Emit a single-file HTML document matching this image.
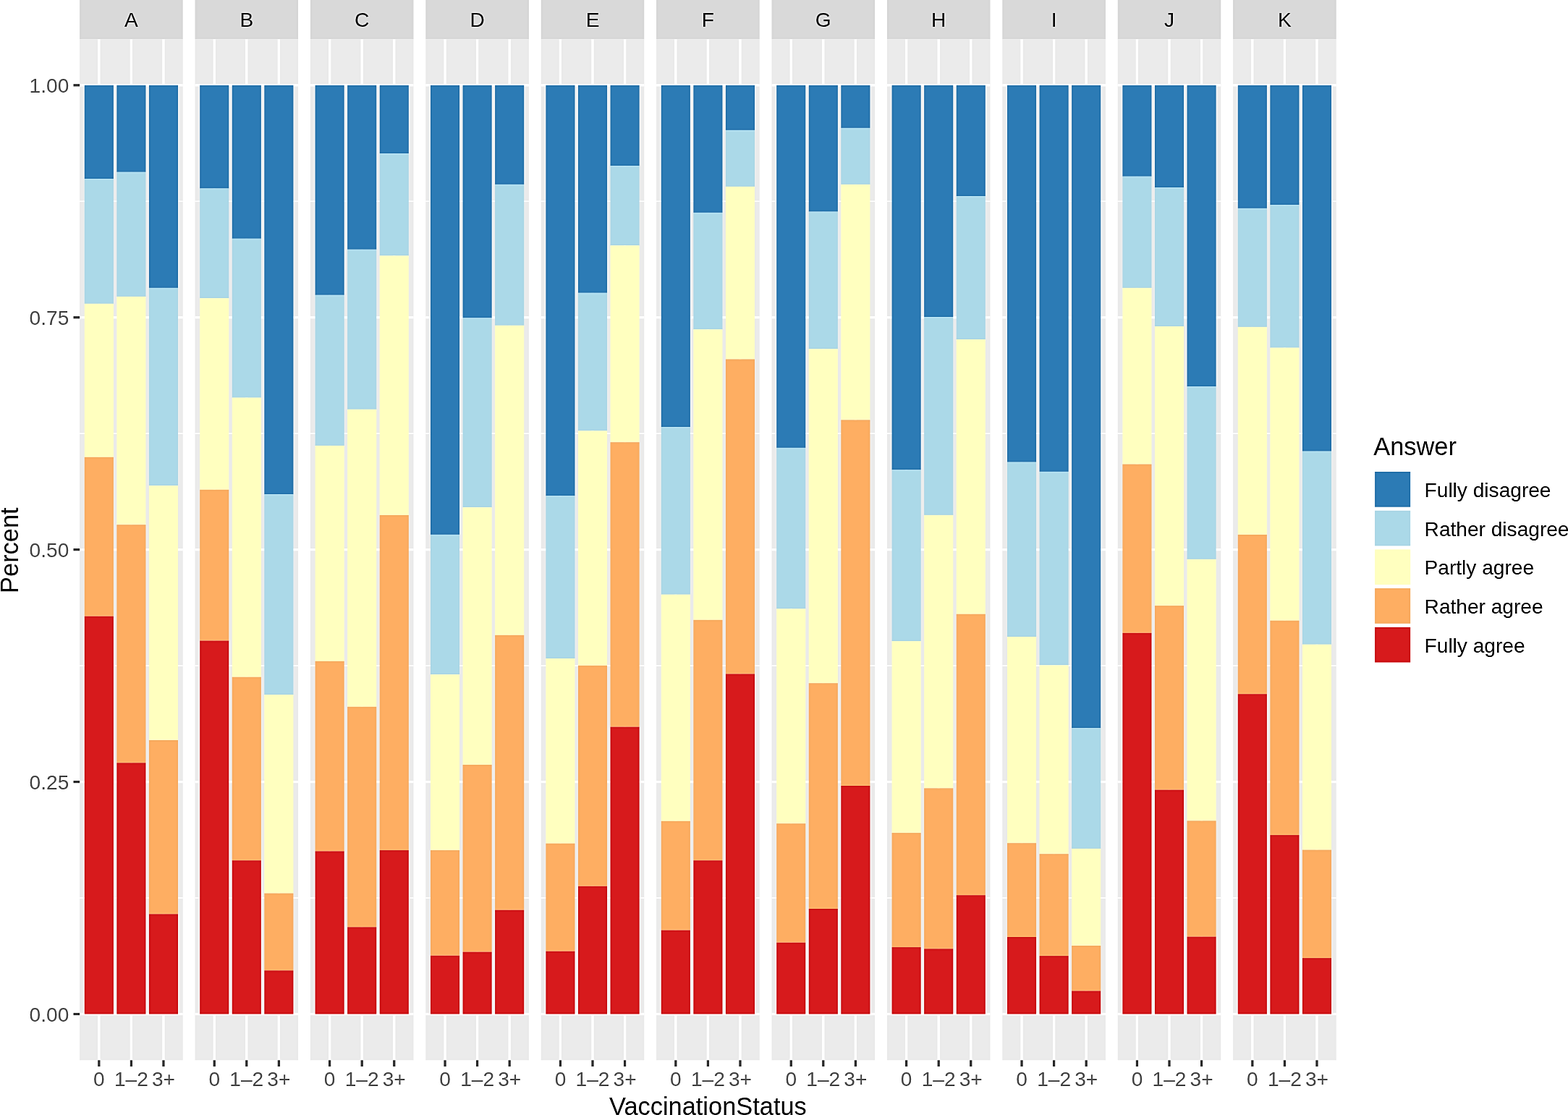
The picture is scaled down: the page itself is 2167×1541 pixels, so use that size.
<!DOCTYPE html>
<html><head><meta charset="utf-8"><title>Stacked bar chart</title>
<style>html,body{margin:0;padding:0;background:#fff;width:2167px;height:1541px;overflow:hidden}svg{display:block}text{font-family:"Liberation Sans",Arial,Helvetica,sans-serif}</style>
</head><body>
<svg width="2167" height="1541" viewBox="0 0 2167 1541">
<defs><filter id="usm" filterUnits="userSpaceOnUse" x="-30" y="-30" width="2227" height="1601" color-interpolation-filters="sRGB"><feGaussianBlur in="SourceGraphic" stdDeviation="0.6" result="s"/><feColorMatrix in="s" type="matrix" values="0.299 0.587 0.114 0 0 0.299 0.587 0.114 0 0 0.299 0.587 0.114 0 0 0 0 0 1 0" result="ls"/><feGaussianBlur in="ls" stdDeviation="1.6" result="lb"/><feComposite in="s" in2="ls" operator="arithmetic" k1="0" k2="0.705882" k3="0.282353" k4="0" result="t"/><feComposite in="t" in2="lb" operator="arithmetic" k1="0" k2="1" k3="-0.282353" k4="0" result="u"/><feComponentTransfer in="u"><feFuncA type="linear" slope="1.41767" intercept="0"/></feComponentTransfer></filter></defs>
<g filter="url(#usm)">
<rect x="-30" y="-30" width="2227" height="1601" fill="#fff"/>
<g>
<rect x="110.1" y="-30" width="142.6" height="84.2" fill="#D9D9D9"/>
<text x="181.4" y="37" text-anchor="middle" font-size="28.1" fill="#1A1A1A">A</text>
<rect x="110.1" y="54.2" width="142.6" height="1411.1" fill="#EBEBEB"/>
<rect x="110.1" y="1240.21" width="142.6" height="1.65" fill="#fff"/>
<rect x="110.1" y="919.29" width="142.6" height="1.65" fill="#fff"/>
<rect x="110.1" y="598.36" width="142.6" height="1.65" fill="#fff"/>
<rect x="110.1" y="277.44" width="142.6" height="1.65" fill="#fff"/>
<rect x="110.1" y="1399.85" width="142.6" height="3.3" fill="#fff"/>
<rect x="110.1" y="1078.92" width="142.6" height="3.3" fill="#fff"/>
<rect x="110.1" y="758" width="142.6" height="3.3" fill="#fff"/>
<rect x="110.1" y="437.08" width="142.6" height="3.3" fill="#fff"/>
<rect x="110.1" y="116.15" width="142.6" height="3.3" fill="#fff"/>
<rect x="135.19" y="54.2" width="3.3" height="1411.1" fill="#fff"/>
<rect x="179.75" y="54.2" width="3.3" height="1411.1" fill="#fff"/>
<rect x="224.31" y="54.2" width="3.3" height="1411.1" fill="#fff"/>
<rect x="116.78" y="117.8" width="40.11" height="129.4" fill="#2C7BB6"/>
<rect x="116.78" y="247.2" width="40.11" height="172.6" fill="#ABD9E9"/>
<rect x="116.78" y="419.8" width="40.11" height="212" fill="#FFFFBF"/>
<rect x="116.78" y="631.8" width="40.11" height="219.9" fill="#FDAE61"/>
<rect x="116.78" y="851.7" width="40.11" height="549.8" fill="#D7191C"/>
<rect x="161.35" y="117.8" width="40.11" height="120" fill="#2C7BB6"/>
<rect x="161.35" y="237.8" width="40.11" height="172.1" fill="#ABD9E9"/>
<rect x="161.35" y="409.9" width="40.11" height="315.3" fill="#FFFFBF"/>
<rect x="161.35" y="725.2" width="40.11" height="329.1" fill="#FDAE61"/>
<rect x="161.35" y="1054.3" width="40.11" height="347.2" fill="#D7191C"/>
<rect x="205.91" y="117.8" width="40.11" height="280.1" fill="#2C7BB6"/>
<rect x="205.91" y="397.9" width="40.11" height="273.3" fill="#ABD9E9"/>
<rect x="205.91" y="671.2" width="40.11" height="351.8" fill="#FFFFBF"/>
<rect x="205.91" y="1023" width="40.11" height="240.3" fill="#FDAE61"/>
<rect x="205.91" y="1263.3" width="40.11" height="138.2" fill="#D7191C"/>
</g>
<g>
<rect x="269.5" y="-30" width="142.6" height="84.2" fill="#D9D9D9"/>
<text x="340.8" y="37" text-anchor="middle" font-size="28.1" fill="#1A1A1A">B</text>
<rect x="269.5" y="54.2" width="142.6" height="1411.1" fill="#EBEBEB"/>
<rect x="269.5" y="1240.21" width="142.6" height="1.65" fill="#fff"/>
<rect x="269.5" y="919.29" width="142.6" height="1.65" fill="#fff"/>
<rect x="269.5" y="598.36" width="142.6" height="1.65" fill="#fff"/>
<rect x="269.5" y="277.44" width="142.6" height="1.65" fill="#fff"/>
<rect x="269.5" y="1399.85" width="142.6" height="3.3" fill="#fff"/>
<rect x="269.5" y="1078.92" width="142.6" height="3.3" fill="#fff"/>
<rect x="269.5" y="758" width="142.6" height="3.3" fill="#fff"/>
<rect x="269.5" y="437.08" width="142.6" height="3.3" fill="#fff"/>
<rect x="269.5" y="116.15" width="142.6" height="3.3" fill="#fff"/>
<rect x="294.59" y="54.2" width="3.3" height="1411.1" fill="#fff"/>
<rect x="339.15" y="54.2" width="3.3" height="1411.1" fill="#fff"/>
<rect x="383.71" y="54.2" width="3.3" height="1411.1" fill="#fff"/>
<rect x="276.18" y="117.8" width="40.11" height="142.7" fill="#2C7BB6"/>
<rect x="276.18" y="260.5" width="40.11" height="151.6" fill="#ABD9E9"/>
<rect x="276.18" y="412.1" width="40.11" height="264.7" fill="#FFFFBF"/>
<rect x="276.18" y="676.8" width="40.11" height="208.7" fill="#FDAE61"/>
<rect x="276.18" y="885.5" width="40.11" height="516" fill="#D7191C"/>
<rect x="320.75" y="117.8" width="40.11" height="212" fill="#2C7BB6"/>
<rect x="320.75" y="329.8" width="40.11" height="219.8" fill="#ABD9E9"/>
<rect x="320.75" y="549.6" width="40.11" height="386.1" fill="#FFFFBF"/>
<rect x="320.75" y="935.7" width="40.11" height="253.5" fill="#FDAE61"/>
<rect x="320.75" y="1189.2" width="40.11" height="212.3" fill="#D7191C"/>
<rect x="365.31" y="117.8" width="40.11" height="565.4" fill="#2C7BB6"/>
<rect x="365.31" y="683.2" width="40.11" height="276.9" fill="#ABD9E9"/>
<rect x="365.31" y="960.1" width="40.11" height="274.5" fill="#FFFFBF"/>
<rect x="365.31" y="1234.6" width="40.11" height="106.7" fill="#FDAE61"/>
<rect x="365.31" y="1341.3" width="40.11" height="60.2" fill="#D7191C"/>
</g>
<g>
<rect x="428.9" y="-30" width="142.6" height="84.2" fill="#D9D9D9"/>
<text x="500.2" y="37" text-anchor="middle" font-size="28.1" fill="#1A1A1A">C</text>
<rect x="428.9" y="54.2" width="142.6" height="1411.1" fill="#EBEBEB"/>
<rect x="428.9" y="1240.21" width="142.6" height="1.65" fill="#fff"/>
<rect x="428.9" y="919.29" width="142.6" height="1.65" fill="#fff"/>
<rect x="428.9" y="598.36" width="142.6" height="1.65" fill="#fff"/>
<rect x="428.9" y="277.44" width="142.6" height="1.65" fill="#fff"/>
<rect x="428.9" y="1399.85" width="142.6" height="3.3" fill="#fff"/>
<rect x="428.9" y="1078.92" width="142.6" height="3.3" fill="#fff"/>
<rect x="428.9" y="758" width="142.6" height="3.3" fill="#fff"/>
<rect x="428.9" y="437.08" width="142.6" height="3.3" fill="#fff"/>
<rect x="428.9" y="116.15" width="142.6" height="3.3" fill="#fff"/>
<rect x="453.99" y="54.2" width="3.3" height="1411.1" fill="#fff"/>
<rect x="498.55" y="54.2" width="3.3" height="1411.1" fill="#fff"/>
<rect x="543.11" y="54.2" width="3.3" height="1411.1" fill="#fff"/>
<rect x="435.58" y="117.8" width="40.11" height="290" fill="#2C7BB6"/>
<rect x="435.58" y="407.8" width="40.11" height="208.1" fill="#ABD9E9"/>
<rect x="435.58" y="615.9" width="40.11" height="297.9" fill="#FFFFBF"/>
<rect x="435.58" y="913.8" width="40.11" height="262.6" fill="#FDAE61"/>
<rect x="435.58" y="1176.4" width="40.11" height="225.1" fill="#D7191C"/>
<rect x="480.15" y="117.8" width="40.11" height="227" fill="#2C7BB6"/>
<rect x="480.15" y="344.8" width="40.11" height="221" fill="#ABD9E9"/>
<rect x="480.15" y="565.8" width="40.11" height="411" fill="#FFFFBF"/>
<rect x="480.15" y="976.8" width="40.11" height="304.5" fill="#FDAE61"/>
<rect x="480.15" y="1281.3" width="40.11" height="120.2" fill="#D7191C"/>
<rect x="524.71" y="117.8" width="40.11" height="94.3" fill="#2C7BB6"/>
<rect x="524.71" y="212.1" width="40.11" height="141.3" fill="#ABD9E9"/>
<rect x="524.71" y="353.4" width="40.11" height="358.5" fill="#FFFFBF"/>
<rect x="524.71" y="711.9" width="40.11" height="463.2" fill="#FDAE61"/>
<rect x="524.71" y="1175.1" width="40.11" height="226.4" fill="#D7191C"/>
</g>
<g>
<rect x="588.3" y="-30" width="142.6" height="84.2" fill="#D9D9D9"/>
<text x="659.6" y="37" text-anchor="middle" font-size="28.1" fill="#1A1A1A">D</text>
<rect x="588.3" y="54.2" width="142.6" height="1411.1" fill="#EBEBEB"/>
<rect x="588.3" y="1240.21" width="142.6" height="1.65" fill="#fff"/>
<rect x="588.3" y="919.29" width="142.6" height="1.65" fill="#fff"/>
<rect x="588.3" y="598.36" width="142.6" height="1.65" fill="#fff"/>
<rect x="588.3" y="277.44" width="142.6" height="1.65" fill="#fff"/>
<rect x="588.3" y="1399.85" width="142.6" height="3.3" fill="#fff"/>
<rect x="588.3" y="1078.92" width="142.6" height="3.3" fill="#fff"/>
<rect x="588.3" y="758" width="142.6" height="3.3" fill="#fff"/>
<rect x="588.3" y="437.08" width="142.6" height="3.3" fill="#fff"/>
<rect x="588.3" y="116.15" width="142.6" height="3.3" fill="#fff"/>
<rect x="613.39" y="54.2" width="3.3" height="1411.1" fill="#fff"/>
<rect x="657.95" y="54.2" width="3.3" height="1411.1" fill="#fff"/>
<rect x="702.51" y="54.2" width="3.3" height="1411.1" fill="#fff"/>
<rect x="594.98" y="117.8" width="40.11" height="621.1" fill="#2C7BB6"/>
<rect x="594.98" y="738.9" width="40.11" height="193.3" fill="#ABD9E9"/>
<rect x="594.98" y="932.2" width="40.11" height="242.9" fill="#FFFFBF"/>
<rect x="594.98" y="1175.1" width="40.11" height="145.6" fill="#FDAE61"/>
<rect x="594.98" y="1320.7" width="40.11" height="80.8" fill="#D7191C"/>
<rect x="639.55" y="117.8" width="40.11" height="321.7" fill="#2C7BB6"/>
<rect x="639.55" y="439.5" width="40.11" height="261.7" fill="#ABD9E9"/>
<rect x="639.55" y="701.2" width="40.11" height="355.7" fill="#FFFFBF"/>
<rect x="639.55" y="1056.9" width="40.11" height="258.7" fill="#FDAE61"/>
<rect x="639.55" y="1315.6" width="40.11" height="85.9" fill="#D7191C"/>
<rect x="684.11" y="117.8" width="40.11" height="137.1" fill="#2C7BB6"/>
<rect x="684.11" y="254.9" width="40.11" height="194.9" fill="#ABD9E9"/>
<rect x="684.11" y="449.8" width="40.11" height="428" fill="#FFFFBF"/>
<rect x="684.11" y="877.8" width="40.11" height="379.9" fill="#FDAE61"/>
<rect x="684.11" y="1257.7" width="40.11" height="143.8" fill="#D7191C"/>
</g>
<g>
<rect x="747.7" y="-30" width="142.6" height="84.2" fill="#D9D9D9"/>
<text x="819" y="37" text-anchor="middle" font-size="28.1" fill="#1A1A1A">E</text>
<rect x="747.7" y="54.2" width="142.6" height="1411.1" fill="#EBEBEB"/>
<rect x="747.7" y="1240.21" width="142.6" height="1.65" fill="#fff"/>
<rect x="747.7" y="919.29" width="142.6" height="1.65" fill="#fff"/>
<rect x="747.7" y="598.36" width="142.6" height="1.65" fill="#fff"/>
<rect x="747.7" y="277.44" width="142.6" height="1.65" fill="#fff"/>
<rect x="747.7" y="1399.85" width="142.6" height="3.3" fill="#fff"/>
<rect x="747.7" y="1078.92" width="142.6" height="3.3" fill="#fff"/>
<rect x="747.7" y="758" width="142.6" height="3.3" fill="#fff"/>
<rect x="747.7" y="437.08" width="142.6" height="3.3" fill="#fff"/>
<rect x="747.7" y="116.15" width="142.6" height="3.3" fill="#fff"/>
<rect x="772.79" y="54.2" width="3.3" height="1411.1" fill="#fff"/>
<rect x="817.35" y="54.2" width="3.3" height="1411.1" fill="#fff"/>
<rect x="861.91" y="54.2" width="3.3" height="1411.1" fill="#fff"/>
<rect x="754.38" y="117.8" width="40.11" height="567.5" fill="#2C7BB6"/>
<rect x="754.38" y="685.3" width="40.11" height="224.7" fill="#ABD9E9"/>
<rect x="754.38" y="910" width="40.11" height="255.7" fill="#FFFFBF"/>
<rect x="754.38" y="1165.7" width="40.11" height="149" fill="#FDAE61"/>
<rect x="754.38" y="1314.7" width="40.11" height="86.8" fill="#D7191C"/>
<rect x="798.95" y="117.8" width="40.11" height="287" fill="#2C7BB6"/>
<rect x="798.95" y="404.8" width="40.11" height="190.6" fill="#ABD9E9"/>
<rect x="798.95" y="595.4" width="40.11" height="324.4" fill="#FFFFBF"/>
<rect x="798.95" y="919.8" width="40.11" height="305" fill="#FDAE61"/>
<rect x="798.95" y="1224.8" width="40.11" height="176.7" fill="#D7191C"/>
<rect x="843.51" y="117.8" width="40.11" height="111.4" fill="#2C7BB6"/>
<rect x="843.51" y="229.2" width="40.11" height="110.1" fill="#ABD9E9"/>
<rect x="843.51" y="339.3" width="40.11" height="271.9" fill="#FFFFBF"/>
<rect x="843.51" y="611.2" width="40.11" height="393.4" fill="#FDAE61"/>
<rect x="843.51" y="1004.6" width="40.11" height="396.9" fill="#D7191C"/>
</g>
<g>
<rect x="907.1" y="-30" width="142.6" height="84.2" fill="#D9D9D9"/>
<text x="978.4" y="37" text-anchor="middle" font-size="28.1" fill="#1A1A1A">F</text>
<rect x="907.1" y="54.2" width="142.6" height="1411.1" fill="#EBEBEB"/>
<rect x="907.1" y="1240.21" width="142.6" height="1.65" fill="#fff"/>
<rect x="907.1" y="919.29" width="142.6" height="1.65" fill="#fff"/>
<rect x="907.1" y="598.36" width="142.6" height="1.65" fill="#fff"/>
<rect x="907.1" y="277.44" width="142.6" height="1.65" fill="#fff"/>
<rect x="907.1" y="1399.85" width="142.6" height="3.3" fill="#fff"/>
<rect x="907.1" y="1078.92" width="142.6" height="3.3" fill="#fff"/>
<rect x="907.1" y="758" width="142.6" height="3.3" fill="#fff"/>
<rect x="907.1" y="437.08" width="142.6" height="3.3" fill="#fff"/>
<rect x="907.1" y="116.15" width="142.6" height="3.3" fill="#fff"/>
<rect x="932.19" y="54.2" width="3.3" height="1411.1" fill="#fff"/>
<rect x="976.75" y="54.2" width="3.3" height="1411.1" fill="#fff"/>
<rect x="1021.31" y="54.2" width="3.3" height="1411.1" fill="#fff"/>
<rect x="913.78" y="117.8" width="40.11" height="472.4" fill="#2C7BB6"/>
<rect x="913.78" y="590.2" width="40.11" height="231.5" fill="#ABD9E9"/>
<rect x="913.78" y="821.7" width="40.11" height="313.1" fill="#FFFFBF"/>
<rect x="913.78" y="1134.8" width="40.11" height="150.8" fill="#FDAE61"/>
<rect x="913.78" y="1285.6" width="40.11" height="115.9" fill="#D7191C"/>
<rect x="958.35" y="117.8" width="40.11" height="176.1" fill="#2C7BB6"/>
<rect x="958.35" y="293.9" width="40.11" height="161.4" fill="#ABD9E9"/>
<rect x="958.35" y="455.3" width="40.11" height="401.5" fill="#FFFFBF"/>
<rect x="958.35" y="856.8" width="40.11" height="332.4" fill="#FDAE61"/>
<rect x="958.35" y="1189.2" width="40.11" height="212.3" fill="#D7191C"/>
<rect x="1002.91" y="117.8" width="40.11" height="62.1" fill="#2C7BB6"/>
<rect x="1002.91" y="179.9" width="40.11" height="78" fill="#ABD9E9"/>
<rect x="1002.91" y="257.9" width="40.11" height="238.6" fill="#FFFFBF"/>
<rect x="1002.91" y="496.5" width="40.11" height="434.9" fill="#FDAE61"/>
<rect x="1002.91" y="931.4" width="40.11" height="470.1" fill="#D7191C"/>
</g>
<g>
<rect x="1066.5" y="-30" width="142.6" height="84.2" fill="#D9D9D9"/>
<text x="1137.8" y="37" text-anchor="middle" font-size="28.1" fill="#1A1A1A">G</text>
<rect x="1066.5" y="54.2" width="142.6" height="1411.1" fill="#EBEBEB"/>
<rect x="1066.5" y="1240.21" width="142.6" height="1.65" fill="#fff"/>
<rect x="1066.5" y="919.29" width="142.6" height="1.65" fill="#fff"/>
<rect x="1066.5" y="598.36" width="142.6" height="1.65" fill="#fff"/>
<rect x="1066.5" y="277.44" width="142.6" height="1.65" fill="#fff"/>
<rect x="1066.5" y="1399.85" width="142.6" height="3.3" fill="#fff"/>
<rect x="1066.5" y="1078.92" width="142.6" height="3.3" fill="#fff"/>
<rect x="1066.5" y="758" width="142.6" height="3.3" fill="#fff"/>
<rect x="1066.5" y="437.08" width="142.6" height="3.3" fill="#fff"/>
<rect x="1066.5" y="116.15" width="142.6" height="3.3" fill="#fff"/>
<rect x="1091.59" y="54.2" width="3.3" height="1411.1" fill="#fff"/>
<rect x="1136.15" y="54.2" width="3.3" height="1411.1" fill="#fff"/>
<rect x="1180.71" y="54.2" width="3.3" height="1411.1" fill="#fff"/>
<rect x="1073.18" y="117.8" width="40.11" height="501.1" fill="#2C7BB6"/>
<rect x="1073.18" y="618.9" width="40.11" height="222.5" fill="#ABD9E9"/>
<rect x="1073.18" y="841.4" width="40.11" height="296.8" fill="#FFFFBF"/>
<rect x="1073.18" y="1138.2" width="40.11" height="164.5" fill="#FDAE61"/>
<rect x="1073.18" y="1302.7" width="40.11" height="98.8" fill="#D7191C"/>
<rect x="1117.75" y="117.8" width="40.11" height="174.8" fill="#2C7BB6"/>
<rect x="1117.75" y="292.6" width="40.11" height="189.7" fill="#ABD9E9"/>
<rect x="1117.75" y="482.3" width="40.11" height="461.9" fill="#FFFFBF"/>
<rect x="1117.75" y="944.2" width="40.11" height="311.8" fill="#FDAE61"/>
<rect x="1117.75" y="1256" width="40.11" height="145.5" fill="#D7191C"/>
<rect x="1162.31" y="117.8" width="40.11" height="59.1" fill="#2C7BB6"/>
<rect x="1162.31" y="176.9" width="40.11" height="78" fill="#ABD9E9"/>
<rect x="1162.31" y="254.9" width="40.11" height="325.5" fill="#FFFFBF"/>
<rect x="1162.31" y="580.4" width="40.11" height="505.6" fill="#FDAE61"/>
<rect x="1162.31" y="1086" width="40.11" height="315.5" fill="#D7191C"/>
</g>
<g>
<rect x="1225.9" y="-30" width="142.6" height="84.2" fill="#D9D9D9"/>
<text x="1297.2" y="37" text-anchor="middle" font-size="28.1" fill="#1A1A1A">H</text>
<rect x="1225.9" y="54.2" width="142.6" height="1411.1" fill="#EBEBEB"/>
<rect x="1225.9" y="1240.21" width="142.6" height="1.65" fill="#fff"/>
<rect x="1225.9" y="919.29" width="142.6" height="1.65" fill="#fff"/>
<rect x="1225.9" y="598.36" width="142.6" height="1.65" fill="#fff"/>
<rect x="1225.9" y="277.44" width="142.6" height="1.65" fill="#fff"/>
<rect x="1225.9" y="1399.85" width="142.6" height="3.3" fill="#fff"/>
<rect x="1225.9" y="1078.92" width="142.6" height="3.3" fill="#fff"/>
<rect x="1225.9" y="758" width="142.6" height="3.3" fill="#fff"/>
<rect x="1225.9" y="437.08" width="142.6" height="3.3" fill="#fff"/>
<rect x="1225.9" y="116.15" width="142.6" height="3.3" fill="#fff"/>
<rect x="1250.99" y="54.2" width="3.3" height="1411.1" fill="#fff"/>
<rect x="1295.55" y="54.2" width="3.3" height="1411.1" fill="#fff"/>
<rect x="1340.11" y="54.2" width="3.3" height="1411.1" fill="#fff"/>
<rect x="1232.58" y="117.8" width="40.11" height="531.6" fill="#2C7BB6"/>
<rect x="1232.58" y="649.4" width="40.11" height="236.6" fill="#ABD9E9"/>
<rect x="1232.58" y="886" width="40.11" height="265.1" fill="#FFFFBF"/>
<rect x="1232.58" y="1151.1" width="40.11" height="158" fill="#FDAE61"/>
<rect x="1232.58" y="1309.1" width="40.11" height="92.4" fill="#D7191C"/>
<rect x="1277.15" y="117.8" width="40.11" height="320.4" fill="#2C7BB6"/>
<rect x="1277.15" y="438.2" width="40.11" height="273.7" fill="#ABD9E9"/>
<rect x="1277.15" y="711.9" width="40.11" height="377.5" fill="#FFFFBF"/>
<rect x="1277.15" y="1089.4" width="40.11" height="221.9" fill="#FDAE61"/>
<rect x="1277.15" y="1311.3" width="40.11" height="90.2" fill="#D7191C"/>
<rect x="1321.71" y="117.8" width="40.11" height="153.4" fill="#2C7BB6"/>
<rect x="1321.71" y="271.2" width="40.11" height="197.8" fill="#ABD9E9"/>
<rect x="1321.71" y="469" width="40.11" height="379.7" fill="#FFFFBF"/>
<rect x="1321.71" y="848.7" width="40.11" height="388.5" fill="#FDAE61"/>
<rect x="1321.71" y="1237.2" width="40.11" height="164.3" fill="#D7191C"/>
</g>
<g>
<rect x="1385.3" y="-30" width="142.6" height="84.2" fill="#D9D9D9"/>
<text x="1456.6" y="37" text-anchor="middle" font-size="28.1" fill="#1A1A1A">I</text>
<rect x="1385.3" y="54.2" width="142.6" height="1411.1" fill="#EBEBEB"/>
<rect x="1385.3" y="1240.21" width="142.6" height="1.65" fill="#fff"/>
<rect x="1385.3" y="919.29" width="142.6" height="1.65" fill="#fff"/>
<rect x="1385.3" y="598.36" width="142.6" height="1.65" fill="#fff"/>
<rect x="1385.3" y="277.44" width="142.6" height="1.65" fill="#fff"/>
<rect x="1385.3" y="1399.85" width="142.6" height="3.3" fill="#fff"/>
<rect x="1385.3" y="1078.92" width="142.6" height="3.3" fill="#fff"/>
<rect x="1385.3" y="758" width="142.6" height="3.3" fill="#fff"/>
<rect x="1385.3" y="437.08" width="142.6" height="3.3" fill="#fff"/>
<rect x="1385.3" y="116.15" width="142.6" height="3.3" fill="#fff"/>
<rect x="1410.39" y="54.2" width="3.3" height="1411.1" fill="#fff"/>
<rect x="1454.95" y="54.2" width="3.3" height="1411.1" fill="#fff"/>
<rect x="1499.51" y="54.2" width="3.3" height="1411.1" fill="#fff"/>
<rect x="1391.98" y="117.8" width="40.11" height="520.9" fill="#2C7BB6"/>
<rect x="1391.98" y="638.7" width="40.11" height="241.3" fill="#ABD9E9"/>
<rect x="1391.98" y="880" width="40.11" height="285.2" fill="#FFFFBF"/>
<rect x="1391.98" y="1165.2" width="40.11" height="129.8" fill="#FDAE61"/>
<rect x="1391.98" y="1295" width="40.11" height="106.5" fill="#D7191C"/>
<rect x="1436.55" y="117.8" width="40.11" height="534.1" fill="#2C7BB6"/>
<rect x="1436.55" y="651.9" width="40.11" height="267.5" fill="#ABD9E9"/>
<rect x="1436.55" y="919.4" width="40.11" height="260.8" fill="#FFFFBF"/>
<rect x="1436.55" y="1180.2" width="40.11" height="140.9" fill="#FDAE61"/>
<rect x="1436.55" y="1321.1" width="40.11" height="80.4" fill="#D7191C"/>
<rect x="1481.11" y="117.8" width="40.11" height="888.5" fill="#2C7BB6"/>
<rect x="1481.11" y="1006.3" width="40.11" height="166.6" fill="#ABD9E9"/>
<rect x="1481.11" y="1172.9" width="40.11" height="134.1" fill="#FFFFBF"/>
<rect x="1481.11" y="1307" width="40.11" height="62.5" fill="#FDAE61"/>
<rect x="1481.11" y="1369.5" width="40.11" height="32" fill="#D7191C"/>
</g>
<g>
<rect x="1544.7" y="-30" width="142.6" height="84.2" fill="#D9D9D9"/>
<text x="1616" y="37" text-anchor="middle" font-size="28.1" fill="#1A1A1A">J</text>
<rect x="1544.7" y="54.2" width="142.6" height="1411.1" fill="#EBEBEB"/>
<rect x="1544.7" y="1240.21" width="142.6" height="1.65" fill="#fff"/>
<rect x="1544.7" y="919.29" width="142.6" height="1.65" fill="#fff"/>
<rect x="1544.7" y="598.36" width="142.6" height="1.65" fill="#fff"/>
<rect x="1544.7" y="277.44" width="142.6" height="1.65" fill="#fff"/>
<rect x="1544.7" y="1399.85" width="142.6" height="3.3" fill="#fff"/>
<rect x="1544.7" y="1078.92" width="142.6" height="3.3" fill="#fff"/>
<rect x="1544.7" y="758" width="142.6" height="3.3" fill="#fff"/>
<rect x="1544.7" y="437.08" width="142.6" height="3.3" fill="#fff"/>
<rect x="1544.7" y="116.15" width="142.6" height="3.3" fill="#fff"/>
<rect x="1569.79" y="54.2" width="3.3" height="1411.1" fill="#fff"/>
<rect x="1614.35" y="54.2" width="3.3" height="1411.1" fill="#fff"/>
<rect x="1658.91" y="54.2" width="3.3" height="1411.1" fill="#fff"/>
<rect x="1551.38" y="117.8" width="40.11" height="126" fill="#2C7BB6"/>
<rect x="1551.38" y="243.8" width="40.11" height="154.1" fill="#ABD9E9"/>
<rect x="1551.38" y="397.9" width="40.11" height="243.7" fill="#FFFFBF"/>
<rect x="1551.38" y="641.6" width="40.11" height="233.2" fill="#FDAE61"/>
<rect x="1551.38" y="874.8" width="40.11" height="526.7" fill="#D7191C"/>
<rect x="1595.95" y="117.8" width="40.11" height="141.4" fill="#2C7BB6"/>
<rect x="1595.95" y="259.2" width="40.11" height="191.8" fill="#ABD9E9"/>
<rect x="1595.95" y="451" width="40.11" height="386.1" fill="#FFFFBF"/>
<rect x="1595.95" y="837.1" width="40.11" height="254.5" fill="#FDAE61"/>
<rect x="1595.95" y="1091.6" width="40.11" height="309.9" fill="#D7191C"/>
<rect x="1640.51" y="117.8" width="40.11" height="416.3" fill="#2C7BB6"/>
<rect x="1640.51" y="534.1" width="40.11" height="238.8" fill="#ABD9E9"/>
<rect x="1640.51" y="772.9" width="40.11" height="361.5" fill="#FFFFBF"/>
<rect x="1640.51" y="1134.4" width="40.11" height="160.2" fill="#FDAE61"/>
<rect x="1640.51" y="1294.6" width="40.11" height="106.9" fill="#D7191C"/>
</g>
<g>
<rect x="1704.1" y="-30" width="142.6" height="84.2" fill="#D9D9D9"/>
<text x="1775.4" y="37" text-anchor="middle" font-size="28.1" fill="#1A1A1A">K</text>
<rect x="1704.1" y="54.2" width="142.6" height="1411.1" fill="#EBEBEB"/>
<rect x="1704.1" y="1240.21" width="142.6" height="1.65" fill="#fff"/>
<rect x="1704.1" y="919.29" width="142.6" height="1.65" fill="#fff"/>
<rect x="1704.1" y="598.36" width="142.6" height="1.65" fill="#fff"/>
<rect x="1704.1" y="277.44" width="142.6" height="1.65" fill="#fff"/>
<rect x="1704.1" y="1399.85" width="142.6" height="3.3" fill="#fff"/>
<rect x="1704.1" y="1078.92" width="142.6" height="3.3" fill="#fff"/>
<rect x="1704.1" y="758" width="142.6" height="3.3" fill="#fff"/>
<rect x="1704.1" y="437.08" width="142.6" height="3.3" fill="#fff"/>
<rect x="1704.1" y="116.15" width="142.6" height="3.3" fill="#fff"/>
<rect x="1729.19" y="54.2" width="3.3" height="1411.1" fill="#fff"/>
<rect x="1773.75" y="54.2" width="3.3" height="1411.1" fill="#fff"/>
<rect x="1818.31" y="54.2" width="3.3" height="1411.1" fill="#fff"/>
<rect x="1710.78" y="117.8" width="40.11" height="170.1" fill="#2C7BB6"/>
<rect x="1710.78" y="287.9" width="40.11" height="164" fill="#ABD9E9"/>
<rect x="1710.78" y="451.9" width="40.11" height="287" fill="#FFFFBF"/>
<rect x="1710.78" y="738.9" width="40.11" height="220.3" fill="#FDAE61"/>
<rect x="1710.78" y="959.2" width="40.11" height="442.3" fill="#D7191C"/>
<rect x="1755.35" y="117.8" width="40.11" height="165.4" fill="#2C7BB6"/>
<rect x="1755.35" y="283.2" width="40.11" height="197.4" fill="#ABD9E9"/>
<rect x="1755.35" y="480.6" width="40.11" height="377.1" fill="#FFFFBF"/>
<rect x="1755.35" y="857.7" width="40.11" height="296.4" fill="#FDAE61"/>
<rect x="1755.35" y="1154.1" width="40.11" height="247.4" fill="#D7191C"/>
<rect x="1799.91" y="117.8" width="40.11" height="505.9" fill="#2C7BB6"/>
<rect x="1799.91" y="623.7" width="40.11" height="267" fill="#ABD9E9"/>
<rect x="1799.91" y="890.7" width="40.11" height="283.9" fill="#FFFFBF"/>
<rect x="1799.91" y="1174.6" width="40.11" height="149.5" fill="#FDAE61"/>
<rect x="1799.91" y="1324.1" width="40.11" height="77.4" fill="#D7191C"/>
</g>
<rect x="101.5" y="116.15" width="8.6" height="3.3" fill="#404040"/>
<text x="95.3" y="128" text-anchor="end" font-size="28.1" fill="#5A5A5A">1.00</text>
<rect x="101.5" y="437.08" width="8.6" height="3.3" fill="#404040"/>
<text x="95.3" y="448.93" text-anchor="end" font-size="28.1" fill="#5A5A5A">0.75</text>
<rect x="101.5" y="758" width="8.6" height="3.3" fill="#404040"/>
<text x="95.3" y="769.85" text-anchor="end" font-size="28.1" fill="#5A5A5A">0.50</text>
<rect x="101.5" y="1078.92" width="8.6" height="3.3" fill="#404040"/>
<text x="95.3" y="1090.78" text-anchor="end" font-size="28.1" fill="#5A5A5A">0.25</text>
<rect x="101.5" y="1399.85" width="8.6" height="3.3" fill="#404040"/>
<text x="95.3" y="1411.7" text-anchor="end" font-size="28.1" fill="#5A5A5A">0.00</text>
<rect x="135.19" y="1465.3" width="3.3" height="8.6" fill="#404040"/>
<text x="136.84" y="1501.1" text-anchor="middle" font-size="28.1" fill="#5A5A5A">0</text>
<rect x="179.75" y="1465.3" width="3.3" height="8.6" fill="#404040"/>
<text x="181.4" y="1501.1" text-anchor="middle" font-size="28.1" fill="#5A5A5A">1–2</text>
<rect x="224.31" y="1465.3" width="3.3" height="8.6" fill="#404040"/>
<text x="225.96" y="1501.1" text-anchor="middle" font-size="28.1" fill="#5A5A5A">3+</text>
<rect x="294.59" y="1465.3" width="3.3" height="8.6" fill="#404040"/>
<text x="296.24" y="1501.1" text-anchor="middle" font-size="28.1" fill="#5A5A5A">0</text>
<rect x="339.15" y="1465.3" width="3.3" height="8.6" fill="#404040"/>
<text x="340.8" y="1501.1" text-anchor="middle" font-size="28.1" fill="#5A5A5A">1–2</text>
<rect x="383.71" y="1465.3" width="3.3" height="8.6" fill="#404040"/>
<text x="385.36" y="1501.1" text-anchor="middle" font-size="28.1" fill="#5A5A5A">3+</text>
<rect x="453.99" y="1465.3" width="3.3" height="8.6" fill="#404040"/>
<text x="455.64" y="1501.1" text-anchor="middle" font-size="28.1" fill="#5A5A5A">0</text>
<rect x="498.55" y="1465.3" width="3.3" height="8.6" fill="#404040"/>
<text x="500.2" y="1501.1" text-anchor="middle" font-size="28.1" fill="#5A5A5A">1–2</text>
<rect x="543.11" y="1465.3" width="3.3" height="8.6" fill="#404040"/>
<text x="544.76" y="1501.1" text-anchor="middle" font-size="28.1" fill="#5A5A5A">3+</text>
<rect x="613.39" y="1465.3" width="3.3" height="8.6" fill="#404040"/>
<text x="615.04" y="1501.1" text-anchor="middle" font-size="28.1" fill="#5A5A5A">0</text>
<rect x="657.95" y="1465.3" width="3.3" height="8.6" fill="#404040"/>
<text x="659.6" y="1501.1" text-anchor="middle" font-size="28.1" fill="#5A5A5A">1–2</text>
<rect x="702.51" y="1465.3" width="3.3" height="8.6" fill="#404040"/>
<text x="704.16" y="1501.1" text-anchor="middle" font-size="28.1" fill="#5A5A5A">3+</text>
<rect x="772.79" y="1465.3" width="3.3" height="8.6" fill="#404040"/>
<text x="774.44" y="1501.1" text-anchor="middle" font-size="28.1" fill="#5A5A5A">0</text>
<rect x="817.35" y="1465.3" width="3.3" height="8.6" fill="#404040"/>
<text x="819" y="1501.1" text-anchor="middle" font-size="28.1" fill="#5A5A5A">1–2</text>
<rect x="861.91" y="1465.3" width="3.3" height="8.6" fill="#404040"/>
<text x="863.56" y="1501.1" text-anchor="middle" font-size="28.1" fill="#5A5A5A">3+</text>
<rect x="932.19" y="1465.3" width="3.3" height="8.6" fill="#404040"/>
<text x="933.84" y="1501.1" text-anchor="middle" font-size="28.1" fill="#5A5A5A">0</text>
<rect x="976.75" y="1465.3" width="3.3" height="8.6" fill="#404040"/>
<text x="978.4" y="1501.1" text-anchor="middle" font-size="28.1" fill="#5A5A5A">1–2</text>
<rect x="1021.31" y="1465.3" width="3.3" height="8.6" fill="#404040"/>
<text x="1022.96" y="1501.1" text-anchor="middle" font-size="28.1" fill="#5A5A5A">3+</text>
<rect x="1091.59" y="1465.3" width="3.3" height="8.6" fill="#404040"/>
<text x="1093.24" y="1501.1" text-anchor="middle" font-size="28.1" fill="#5A5A5A">0</text>
<rect x="1136.15" y="1465.3" width="3.3" height="8.6" fill="#404040"/>
<text x="1137.8" y="1501.1" text-anchor="middle" font-size="28.1" fill="#5A5A5A">1–2</text>
<rect x="1180.71" y="1465.3" width="3.3" height="8.6" fill="#404040"/>
<text x="1182.36" y="1501.1" text-anchor="middle" font-size="28.1" fill="#5A5A5A">3+</text>
<rect x="1250.99" y="1465.3" width="3.3" height="8.6" fill="#404040"/>
<text x="1252.64" y="1501.1" text-anchor="middle" font-size="28.1" fill="#5A5A5A">0</text>
<rect x="1295.55" y="1465.3" width="3.3" height="8.6" fill="#404040"/>
<text x="1297.2" y="1501.1" text-anchor="middle" font-size="28.1" fill="#5A5A5A">1–2</text>
<rect x="1340.11" y="1465.3" width="3.3" height="8.6" fill="#404040"/>
<text x="1341.76" y="1501.1" text-anchor="middle" font-size="28.1" fill="#5A5A5A">3+</text>
<rect x="1410.39" y="1465.3" width="3.3" height="8.6" fill="#404040"/>
<text x="1412.04" y="1501.1" text-anchor="middle" font-size="28.1" fill="#5A5A5A">0</text>
<rect x="1454.95" y="1465.3" width="3.3" height="8.6" fill="#404040"/>
<text x="1456.6" y="1501.1" text-anchor="middle" font-size="28.1" fill="#5A5A5A">1–2</text>
<rect x="1499.51" y="1465.3" width="3.3" height="8.6" fill="#404040"/>
<text x="1501.16" y="1501.1" text-anchor="middle" font-size="28.1" fill="#5A5A5A">3+</text>
<rect x="1569.79" y="1465.3" width="3.3" height="8.6" fill="#404040"/>
<text x="1571.44" y="1501.1" text-anchor="middle" font-size="28.1" fill="#5A5A5A">0</text>
<rect x="1614.35" y="1465.3" width="3.3" height="8.6" fill="#404040"/>
<text x="1616" y="1501.1" text-anchor="middle" font-size="28.1" fill="#5A5A5A">1–2</text>
<rect x="1658.91" y="1465.3" width="3.3" height="8.6" fill="#404040"/>
<text x="1660.56" y="1501.1" text-anchor="middle" font-size="28.1" fill="#5A5A5A">3+</text>
<rect x="1729.19" y="1465.3" width="3.3" height="8.6" fill="#404040"/>
<text x="1730.84" y="1501.1" text-anchor="middle" font-size="28.1" fill="#5A5A5A">0</text>
<rect x="1773.75" y="1465.3" width="3.3" height="8.6" fill="#404040"/>
<text x="1775.4" y="1501.1" text-anchor="middle" font-size="28.1" fill="#5A5A5A">1–2</text>
<rect x="1818.31" y="1465.3" width="3.3" height="8.6" fill="#404040"/>
<text x="1819.96" y="1501.1" text-anchor="middle" font-size="28.1" fill="#5A5A5A">3+</text>
<text x="978.4" y="1541" text-anchor="middle" font-size="34.4" fill="#000">VaccinationStatus</text>
<text transform="translate(24.5 760.65) rotate(-90)" text-anchor="middle" font-size="34.4" fill="#000">Percent</text>
<text x="1898.2" y="628.9" font-size="34.4" fill="#000">Answer</text>
<rect x="1900.1" y="652" width="49.1" height="48.7" fill="#2C7BB6"/>
<text x="1968.6" y="686.85" font-size="28.1" fill="#000">Fully disagree</text>
<rect x="1900.1" y="705.7" width="49.1" height="48.7" fill="#ABD9E9"/>
<text x="1968.6" y="740.55" font-size="28.1" fill="#000">Rather disagree</text>
<rect x="1900.1" y="759.4" width="49.1" height="48.7" fill="#FFFFBF"/>
<text x="1968.6" y="794.25" font-size="28.1" fill="#000">Partly agree</text>
<rect x="1900.1" y="813.1" width="49.1" height="48.7" fill="#FDAE61"/>
<text x="1968.6" y="847.95" font-size="28.1" fill="#000">Rather agree</text>
<rect x="1900.1" y="866.8" width="49.1" height="48.7" fill="#D7191C"/>
<text x="1968.6" y="901.65" font-size="28.1" fill="#000">Fully agree</text>
</g>
</svg>
</body></html>
